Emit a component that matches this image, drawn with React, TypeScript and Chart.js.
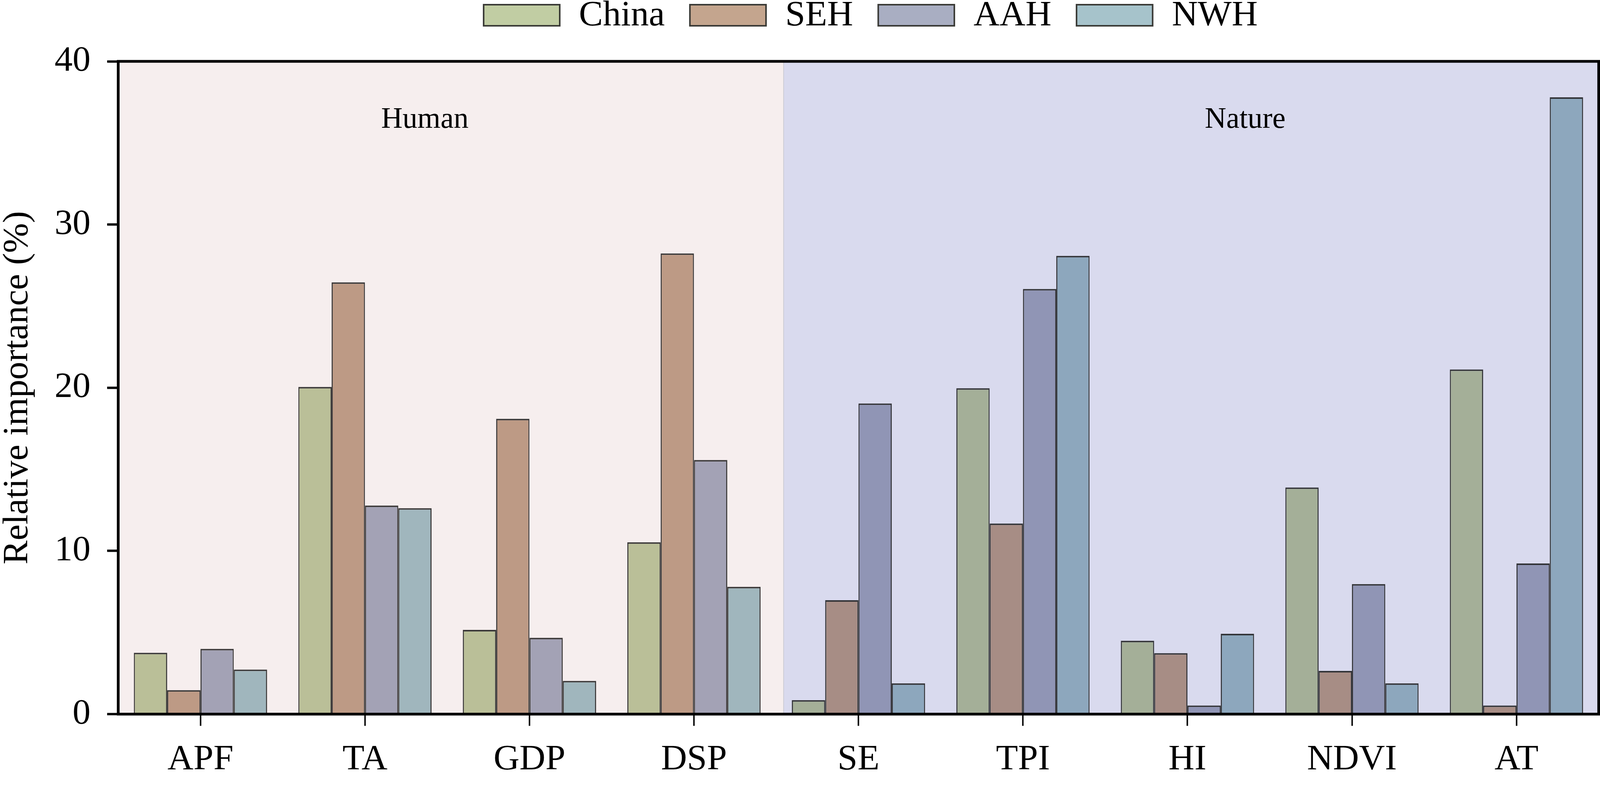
import { useEffect, useRef } from 'react';
import { Chart, registerables } from 'chart.js';

Chart.register(...registerables);

const categories = ['APF', 'TA', 'GDP', 'DSP', 'SE', 'TPI', 'HI', 'NDVI', 'AT'];
const seriesNames = ['China', 'SEH', 'AAH', 'NWH'];
const chinaValues = [3.76, 20.05, 5.16, 10.53, 0.86, 19.97, 4.5, 13.89, 21.12];
const sehValues = [1.47, 26.46, 18.1, 28.23, 6.98, 11.68, 3.74, 2.65, 0.53];
const aahValues = [4.0, 12.78, 4.68, 15.57, 19.04, 26.05, 0.53, 7.97, 9.23];
const nwhValues = [2.73, 12.62, 2.04, 7.8, 1.89, 28.08, 4.92, 1.89, 37.8];
const yTicks = [0, 10, 20, 30, 40];

// groups shaded behind the bars (multiplied over them)
const regionNames = ['Human', 'Nature'];
const regionColors = ['#F6EEEE', '#D9DAEE'];
const regionSplit = 3.545; // in category-index units
const regionLabelAt = [1.364, 6.351];
const regionLabelValue = 36.4;

const seriesColors = ['#C1CDA3', '#C4A58E', '#A9AEC2', '#A6C3CB'];
const FONT = "'Liberation Serif', 'Times New Roman', serif";

// layout was measured on a 4331 x 2032 picture; scale to the real page
const REF_W = 4331;
const REF_H = 2032;

function makeDecorPlugin(sx: number, sy: number) {
  return {
    id: 'decor',
    afterDatasetsDraw(chart: any) {
      const { ctx, chartArea: a, scales } = chart;
      const x = scales.x;
      const y = scales.y;
      const step = x.getPixelForValue(1) - x.getPixelForValue(0);
      const split = x.getPixelForValue(0) + regionSplit * step;
      ctx.save();
      ctx.globalCompositeOperation = 'multiply';
      ctx.fillStyle = regionColors[0];
      ctx.fillRect(a.left, a.top, split - a.left, a.bottom - a.top);
      ctx.fillStyle = regionColors[1];
      ctx.fillRect(split, a.top, a.right - split, a.bottom - a.top);
      ctx.restore();

      ctx.save();
      ctx.strokeStyle = '#cbcbd4';
      ctx.lineWidth = 2 * sx;
      ctx.beginPath();
      ctx.moveTo(split, a.top);
      ctx.lineTo(split, a.bottom);
      ctx.stroke();

      ctx.fillStyle = '#000';
      ctx.font = `${76 * sy}px ${FONT}`;
      ctx.textAlign = 'center';
      ctx.textBaseline = 'middle';
      regionNames.forEach((name, i) => {
        const px = x.getPixelForValue(0) + regionLabelAt[i] * step;
        ctx.fillText(name, px, y.getPixelForValue(regionLabelValue));
      });
      ctx.restore();
    },
    afterDraw(chart: any) {
      const { ctx, chartArea: a } = chart;
      ctx.save();
      ctx.strokeStyle = '#000';
      ctx.lineWidth = 7 * sy;
      ctx.strokeRect(a.left, a.top, a.right - a.left, a.bottom - a.top);

      // legend
      ctx.font = `${92 * sy}px ${FONT}`;
      ctx.textBaseline = 'alphabetic';
      ctx.textAlign = 'left';
      const boxW = 206 * sx;
      const boxH = 54 * sy;
      const textGap = 52 * sx;
      const itemGap = 68 * sx;
      const widths = seriesNames.map((n) => boxW + textGap + ctx.measureText(n).width);
      const total = widths.reduce((s, w) => s + w, 0) + itemGap * (seriesNames.length - 1);
      let cx = (a.left + a.right) / 2 + 33 * sx - total / 2;
      seriesNames.forEach((name, i) => {
        ctx.fillStyle = seriesColors[i];
        ctx.fillRect(cx, 12 * sy, boxW, boxH);
        ctx.strokeStyle = '#3a3a36';
        ctx.lineWidth = 4 * sy;
        ctx.strokeRect(cx, 12 * sy, boxW, boxH);
        ctx.fillStyle = '#000';
        ctx.fillText(name, cx + boxW + textGap, 65 * sy);
        cx += widths[i] + itemGap;
      });
      ctx.restore();
    },
  };
}

export default function App() {
  const boxRef = useRef<HTMLDivElement>(null);
  const canvasRef = useRef<HTMLCanvasElement>(null);

  useEffect(() => {
    document.body.style.margin = '0';
    document.body.style.overflow = 'hidden';
    if (!canvasRef.current || !boxRef.current) return;

    const sx = boxRef.current.clientWidth / REF_W;
    const sy = boxRef.current.clientHeight / REF_H;
    const valueSets = [chinaValues, sehValues, aahValues, nwhValues];

    const chart = new Chart(canvasRef.current, {
      type: 'bar',
      data: {
        labels: categories,
        datasets: seriesNames.map((name, i) => ({
          label: name,
          data: valueSets[i],
          backgroundColor: seriesColors[i],
          borderColor: '#3c3c3c',
          borderWidth: { top: 4 * sy, left: 3 * sx, right: 3 * sx, bottom: 0 },
          borderSkipped: 'start',
          categoryPercentage: 0.81,
          barPercentage: 1,
        })),
      },
      plugins: [makeDecorPlugin(sx, sy)],
      options: {
        responsive: true,
        maintainAspectRatio: false,
        animation: false,
        layout: { padding: { top: 157 * sy, left: 0, right: 3.5 * sx, bottom: 0 } },
        plugins: {
          legend: { display: false },
          tooltip: { enabled: false },
        },
        scales: {
          x: {
            border: { display: false },
            grid: {
              display: true,
              offset: false,
              drawOnChartArea: false,
              drawTicks: true,
              tickLength: 30 * sy,
              tickWidth: 4 * sx,
              tickColor: '#000',
            },
            ticks: {
              color: '#000',
              padding: 55 * sy,
              font: { family: FONT, size: 92 * sy, lineHeight: 0.7 },
            },
          },
          y: {
            min: 0,
            max: 40,
            border: { display: false },
            grid: {
              display: true,
              drawOnChartArea: false,
              drawTicks: true,
              tickLength: 30 * sx,
              tickWidth: 6 * sy,
              tickColor: '#000',
            },
            afterBuildTicks: (axis: any) => {
              axis.ticks = yTicks.map((v) => ({ value: v }));
            },
            afterFit: (axis: any) => {
              axis.width = 320 * sx;
            },
            ticks: {
              color: '#000',
              padding: 45 * sx,
              font: { family: FONT, size: 92 * sy },
            },
            title: {
              display: true,
              text: 'Relative importance (%)',
              color: '#000',
              padding: { top: Math.max(0, 46 * sx - 46 * sy), bottom: 0 },
              font: { family: FONT, size: 92 * sy, lineHeight: 1 },
            },
          },
        },
      },
    });

    return () => chart.destroy();
  }, []);

  return (
    <div ref={boxRef} style={{ position: 'relative', width: '100vw', height: '100vh' }}>
      <canvas ref={canvasRef} />
    </div>
  );
}
